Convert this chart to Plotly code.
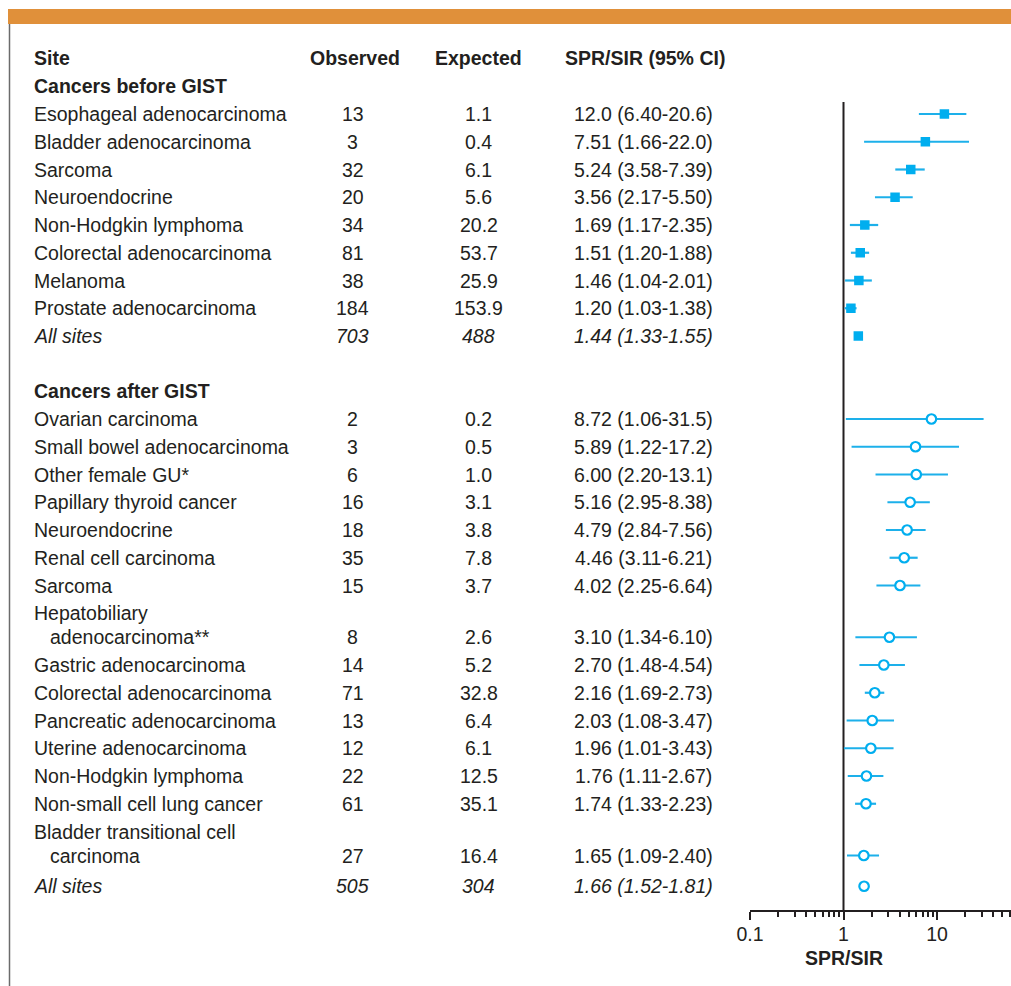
import math
import plotly.graph_objects as go

# ---------------- data ----------------
sites_before = ["Esophageal adenocarcinoma", "Bladder adenocarcinoma", "Sarcoma", "Neuroendocrine",
                "Non-Hodgkin lymphoma", "Colorectal adenocarcinoma", "Melanoma",
                "Prostate adenocarcinoma", "All sites"]
obs_before = ["13", "3", "32", "20", "34", "81", "38", "184", "703"]
exp_before = ["1.1", "0.4", "6.1", "5.6", "20.2", "53.7", "25.9", "153.9", "488"]
spr_before = [12.0, 7.51, 5.24, 3.56, 1.69, 1.51, 1.46, 1.20, 1.44]
lo_before = [6.40, 1.66, 3.58, 2.17, 1.17, 1.20, 1.04, 1.03, 1.33]
hi_before = [20.6, 22.0, 7.39, 5.50, 2.35, 1.88, 2.01, 1.38, 1.55]

sites_after = ["Ovarian carcinoma", "Small bowel adenocarcinoma", "Other female GU*",
               "Papillary thyroid cancer", "Neuroendocrine", "Renal cell carcinoma", "Sarcoma",
               "Hepatobiliary|adenocarcinoma**", "Gastric adenocarcinoma",
               "Colorectal adenocarcinoma", "Pancreatic adenocarcinoma", "Uterine adenocarcinoma",
               "Non-Hodgkin lymphoma", "Non-small cell lung cancer",
               "Bladder transitional cell|carcinoma", "All sites"]
obs_after = ["2", "3", "6", "16", "18", "35", "15", "8", "14", "71", "13", "12", "22", "61", "27", "505"]
exp_after = ["0.2", "0.5", "1.0", "3.1", "3.8", "7.8", "3.7", "2.6", "5.2", "32.8", "6.4", "6.1",
             "12.5", "35.1", "16.4", "304"]
spr_after = [8.72, 5.89, 6.00, 5.16, 4.79, 4.46, 4.02, 3.10, 2.70, 2.16, 2.03, 1.96, 1.76, 1.74, 1.65, 1.66]
lo_after = [1.06, 1.22, 2.20, 2.95, 2.84, 3.11, 2.25, 1.34, 1.48, 1.69, 1.08, 1.01, 1.11, 1.33, 1.09, 1.52]
hi_after = [31.5, 17.2, 13.1, 8.38, 7.56, 6.21, 6.64, 6.10, 4.54, 2.73, 3.47, 3.43, 2.67, 2.23, 2.40, 1.81]

headers = ["Site", "Observed", "Expected", "SPR/SIR (95% CI)"]
section_titles = ["Cancers before GIST", "Cancers after GIST"]
axis_tick_labels = ["0.1", "1", "10"]
axis_title = "SPR/SIR"

# ---------------- layout constants (pixels) ----------------
W, H = 1011, 986
L = 750                      # left edge of forest panel
PW = W - L
DEC = 93.5                   # pixels per decade
AXIS_Y = 911
PITCH = 27.75
LINE2 = 24
FONT = "Liberation Sans, Arial, Helvetica, sans-serif"
FS = 19.5
TXT = "#231F20"
BLUE = "#00AEEF"
LBLUE = "#1DB0EA"

X_SITE, X_SITE2, X_OBS, X_EXP, X_SPR = 31.5, 47.5, 352.5, 478.5, 643.5
X_H_OBS, X_H_EXP, X_H_SPR = 354.5, 478, 645


def px(xpix):
    return (xpix - L) / PW


def fmt(v):
    return f"{v:.1f}" if v >= 10 else f"{v:.2f}"


annotations = []


def add_text(text, xpix, y, anchor="left", bold=False, italic=False):
    t = text
    if bold:
        t = f"<b>{t}</b>"
    if italic:
        t = f"<i>{t}</i>"
    annotations.append(dict(text=t, x=px(xpix), xref="paper", y=y, yref="y",
                            xanchor=anchor, yanchor="middle", showarrow=False,
                            font=dict(family=FONT, size=FS, color=TXT)))


# headers
add_text(headers[0], X_SITE, 58, bold=True)
add_text(headers[1], X_H_OBS, 58, "center", bold=True)
add_text(headers[2], X_H_EXP, 58, "center", bold=True)
add_text(headers[3], X_H_SPR, 58, "center", bold=True)


def layout_group(title, sites, obs, exp, spr, lo, hi, y_title, y_start, last_gap):
    add_text(title, X_SITE, y_title, bold=True)
    ys = []
    y = y_start
    n = len(sites)
    for i, s in enumerate(sites):
        is_all = (i == n - 1)
        if is_all:
            y += last_gap
        parts = s.split("|")
        if len(parts) == 2:
            add_text(parts[0], X_SITE, y)
            y += LINE2
            add_text(parts[1], X_SITE2, y)
        else:
            add_text(s, X_SITE, y, italic=is_all)
        add_text(obs[i], X_OBS, y, "center", italic=is_all)
        add_text(exp[i], X_EXP, y, "center", italic=is_all)
        add_text(f"{fmt(spr[i])} ({fmt(lo[i])}-{fmt(hi[i])})", X_SPR, y, "center", italic=is_all)
        ys.append(y)
        y += PITCH
    return ys


ys_b = layout_group(section_titles[0], sites_before, obs_before, exp_before, spr_before,
                    lo_before, hi_before, 86, 114, 0)
ys_a = layout_group(section_titles[1], sites_after, obs_after, exp_after, spr_after,
                    lo_after, hi_after, 391, 419, 3)

fig = go.Figure()


def add_group(ys, spr, lo, hi, symbol, filled):
    n = len(spr)
    idx = list(range(n - 1))
    marker = dict(symbol=symbol, size=9.5,
                  color=BLUE if filled else "white",
                  line=dict(width=0 if filled else 2.2, color=BLUE))
    fig.add_trace(go.Scatter(
        x=[spr[i] for i in idx], y=[ys[i] for i in idx], mode="markers",
        marker=marker,
        error_x=dict(type="data", symmetric=False,
                     array=[hi[i] - spr[i] for i in idx],
                     arrayminus=[spr[i] - lo[i] for i in idx],
                     width=0, thickness=2.2, color=LBLUE),
        showlegend=False, cliponaxis=False))
    # summary row (no CI bar drawn)
    fig.add_trace(go.Scatter(x=[spr[-1]], y=[ys[-1]], mode="markers", marker=marker,
                             showlegend=False, cliponaxis=False))


add_group(ys_b, spr_before, lo_before, hi_before, "square", True)
add_group(ys_a, spr_after, lo_after, hi_after, "circle", False)

annotations.append(dict(text=f"<b>{axis_title}</b>", x=math.log10(1), xref="x", y=958, yref="y",
                        xanchor="center", yanchor="middle", showarrow=False, borderpad=0,
                        font=dict(family=FONT, size=FS, color=TXT)))

shapes = [
    dict(type="rect", xref="paper", yref="y", x0=px(8), x1=px(W + 2), y0=9, y1=24,
         fillcolor="#E0903A", line=dict(width=0), layer="below"),
    dict(type="line", xref="paper", yref="y", x0=px(9.5), x1=px(9.5), y0=24, y1=H + 2,
         line=dict(color="#6b6b6b", width=1.5)),
    dict(type="line", xref="x", yref="y", x0=1, x1=1, y0=102, y1=AXIS_Y,
         line=dict(color=TXT, width=2), layer="below"),
]

minor_vals = [m * 10 ** e for e in (-1, 0, 1) for m in range(2, 10) if m * 10 ** e < 62]

fig.update_layout(
    width=W, height=H,
    margin=dict(l=L, r=0, t=0, b=0, pad=0),
    paper_bgcolor="white", plot_bgcolor="white",
    xaxis=dict(type="log", range=[-1, -1 + PW / DEC], anchor="free",
               position=(H - AXIS_Y) / H,
               tickvals=[0.1, 1, 10], ticktext=axis_tick_labels,
               ticks="outside", ticklen=8, tickwidth=1.5, tickcolor=TXT,
               ticklabelstandoff=-2,
               minor=dict(tickvals=minor_vals, ticks="outside", ticklen=5, tickwidth=1.5,
                          tickcolor=TXT, showgrid=False),
               showline=True, linewidth=2, linecolor=TXT,
               showgrid=False, zeroline=False,
               tickfont=dict(family=FONT, size=FS, color=TXT)),
    yaxis=dict(range=[H, 0], visible=False, showgrid=False, zeroline=False, domain=[0, 1]),
    annotations=annotations,
    shapes=shapes,
)

fig.write_html("out.html", config={"displayModeBar": False},
               post_script="document.body.style.margin='0';")
